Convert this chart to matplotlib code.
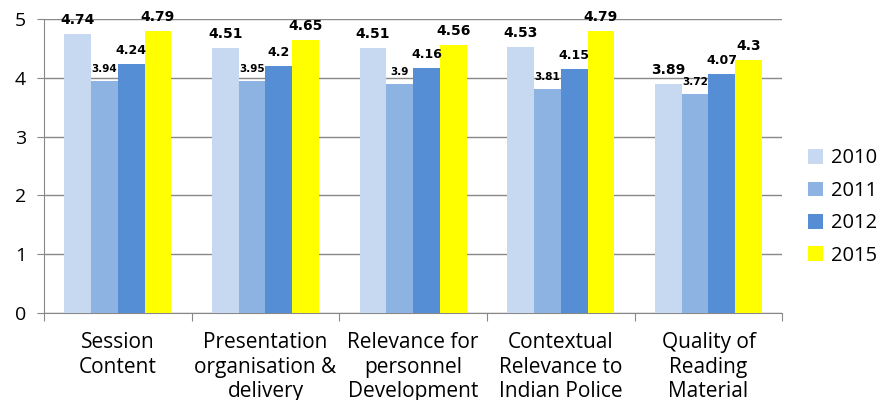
import matplotlib.pyplot as plt
import numpy as np

categories = ['Session\nContent', 'Presentation\norganisation &\ndelivery',
              'Relevance for\npersonnel\nDevelopment', 'Contextual\nRelevance to\nIndian Police',
              'Quality of\nReading\nMaterial']
years = ['2010', '2011', '2012', '2015']
v2010 = [4.74, 4.51, 4.51, 4.53, 3.89]
v2011 = [3.94, 3.95, 3.9, 3.81, 3.72]
v2012 = [4.24, 4.2, 4.16, 4.15, 4.07]
v2015 = [4.79, 4.65, 4.56, 4.79, 4.3]

series = [v2010, v2011, v2012, v2015]
colors = ['#C6D9F1', '#8DB3E2', '#558ED5', '#FFFF00']
label_sizes = [10, 7.5, 9, 10]

plt.rcParams['font.family'] = ['Open Sans', 'DejaVu Sans']

fig = plt.figure(figsize=(8.8, 4), dpi=100)
ax = fig.add_axes([0.05, 0.2175, 0.839, 0.735])

x = np.arange(len(categories))
w = 0.181
for i, (vals, col) in enumerate(zip(series, colors)):
    pos = x + (i - 1.5) * w
    bars = ax.bar(pos, vals, width=w, color=col, label=years[i], zorder=3)
    for b, v in zip(bars, vals):
        ax.annotate(f'{v:g}', (b.get_x() + b.get_width() / 2, v),
                    xytext=(0, 5), textcoords='offset points', ha='center', va='bottom',
                    fontsize=label_sizes[i], fontweight='bold', family='DejaVu Sans', zorder=4)

ax.set_xlim(-0.5, len(categories) - 0.5)
ax.set_ylim(0, 5)
ax.set_yticks(range(6))
ax.tick_params(axis='y', labelsize=14, length=5, color='#888888', pad=8)
ax.yaxis.grid(True, color='#888888', linewidth=1, zorder=0)

ax.set_xticks(np.arange(len(categories) + 1) - 0.5)
ax.set_xticklabels([])
ax.tick_params(axis='x', which='major', length=6, color='#888888')
ax.set_xticks(x, minor=True)
ax.set_xticklabels(categories, minor=True, fontsize=15, linespacing=1.22)
ax.tick_params(axis='x', which='minor', length=0, pad=14)

for s in ['top', 'right']:
    ax.spines[s].set_visible(False)
for s in ['left', 'bottom']:
    ax.spines[s].set_color('#888888')

ax.legend(loc='center left', bbox_to_anchor=(1.01, 0.36), frameon=False, fontsize=14.5,
          handlelength=0.75, handleheight=0.75, labelspacing=0.62, handletextpad=0.4)

fig.savefig('out.png', dpi=100)
